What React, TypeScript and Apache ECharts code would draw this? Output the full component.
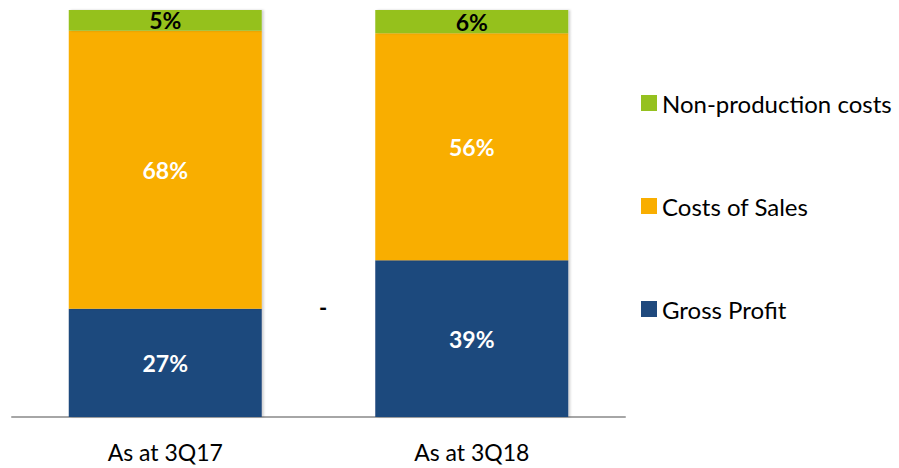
import React, { useEffect, useRef } from "react";
import * as echarts from "echarts";

const categories = ["As at 3Q17", "As at 3Q18"];
const grossProfit = [26.6, 38.5];
const costsOfSales = [68.3, 55.8];
const nonProduction = [5.1, 5.7];
const seriesNames = ["Gross Profit", "Costs of Sales", "Non-production costs"];
const colors = ["#1F497D", "#F9AE00", "#95C11F"];
const labelColors = ["#FFFFFF", "#FFFFFF", "#000000"];

const FONT = "Lato, 'Open Sans', sans-serif";

export default function App() {
  const ref = useRef<HTMLDivElement>(null);
  useEffect(() => {
    if (!ref.current) return;
    const chart = echarts.init(ref.current, null, { renderer: "svg" });
    const values = [grossProfit, costsOfSales, nonProduction];
    chart.setOption({
      animation: false,
      textStyle: { fontFamily: FONT },
      grid: { left: 12, right: 274, top: 10, bottom: 51, containLabel: false },
      xAxis: {
        type: "category",
        data: categories,
        axisLine: { lineStyle: { color: "#A6A6A6", width: 2 } },
        axisTick: { show: false },
        axisLabel: { color: "#000", fontSize: 23, fontFamily: FONT, margin: 23 },
      },
      yAxis: {
        type: "value",
        min: 0,
        max: 100,
        show: false,
        splitLine: { show: false },
      },
      legend: {
        orient: "vertical",
        left: 636,
        top: 86,
        itemWidth: 16,
        itemHeight: 16,
        itemGap: 79,
        icon: "rect",
        data: [seriesNames[2], seriesNames[1], seriesNames[0]],
        textStyle: { fontSize: 24, color: "#000", fontFamily: FONT, lineHeight: 22, padding: [0, 0, 0, 0] },
      },
      series: values.map((vals, i) => ({
        name: seriesNames[i],
        type: "bar",
        stack: "total",
        barWidth: 193,
        data: vals,
        itemStyle: {
          color: colors[i],
          shadowColor: "rgba(0,0,0,0.18)",
          shadowBlur: 2,
          shadowOffsetX: 2,
          shadowOffsetY: 0,
        },
        label: {
          show: true,
          position: "inside",
          color: labelColors[i],
          fontSize: 23,
          fontWeight: "bold",
          fontFamily: FONT,
          formatter: (p: any) => Math.round(p.value) + "%",
        },
      })),
      graphic: [
        {
          type: "text",
          left: 319,
          top: 296,
          style: { text: "-", fontSize: 22, fontWeight: "bold", fill: "#000", fontFamily: FONT },
        },
      ],
    });
    return () => chart.dispose();
  }, []);
  return <div ref={ref} style={{ width: 899, height: 468, position: "absolute", left: 0, top: 0 }} />;
}
